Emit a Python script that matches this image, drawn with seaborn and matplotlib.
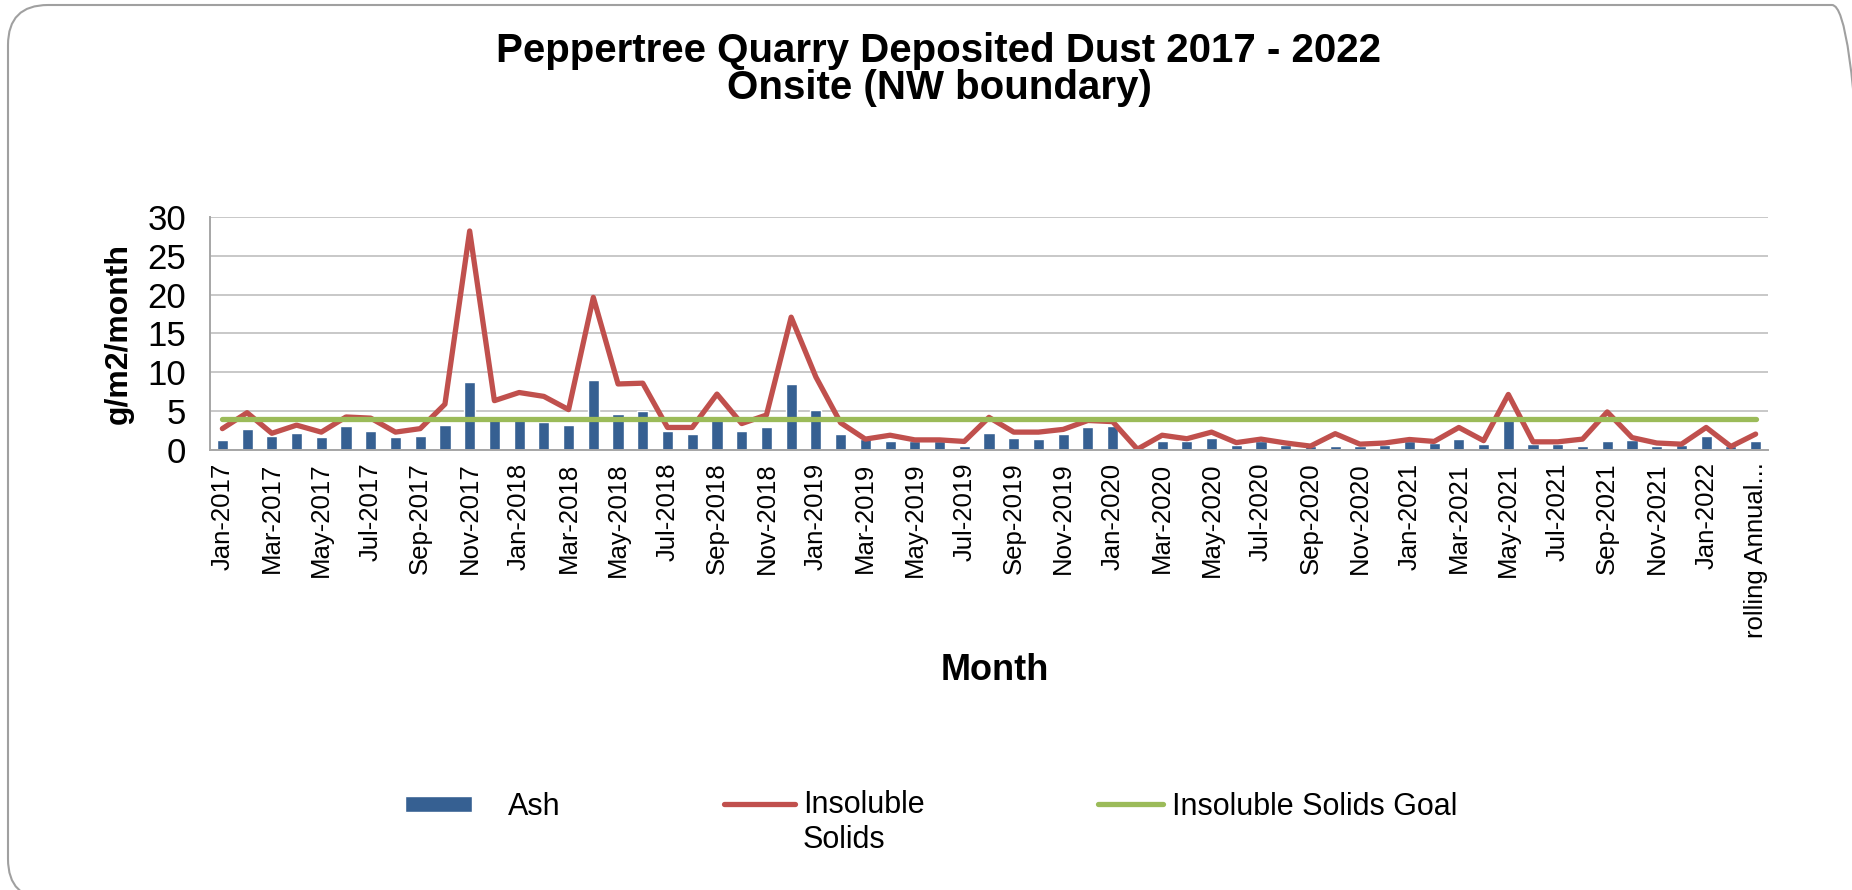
import numpy as np
import pandas as pd
import matplotlib.pyplot as plt
import seaborn as sns
from matplotlib.patches import FancyBboxPatch
from matplotlib.transforms import IdentityTransform
from matplotlib.legend_handler import HandlerLine2D

# monthly categories, plus the rolling annual column at the end
months = list(pd.date_range("2017-01-01", periods=62, freq="MS").strftime("%b-%Y")) + ["rolling Annual..."]

# g/m2/month
ash = [1.3, 2.7, 1.85, 2.2, 1.7, 3.1, 2.4, 1.7, 1.85, 3.2,
       8.7, 3.85, 3.8, 3.6, 3.2, 9.0, 4.6, 5.0, 2.4, 2.0,
       3.9, 2.4, 2.9, 8.5, 5.1, 2.0, 1.4, 1.1, 1.2, 1.2,
       0.55, 2.15, 1.6, 1.45, 2.0, 2.9, 3.05, 0.0, 1.1, 1.1,
       1.6, 0.65, 1.1, 0.65, 0.5, 0.55, 0.5, 0.6, 1.1, 0.95,
       1.45, 0.75, 3.85, 0.75, 0.75, 0.55, 1.1, 1.3, 0.45, 0.65,
       1.8, 0.55, 1.1]
insoluble = [2.75, 4.8, 2.15, 3.2, 2.3, 4.25, 4.1, 2.3, 2.75, 5.9,
             28.2, 6.35, 7.4, 6.9, 5.2, 19.65, 8.5, 8.6, 2.9, 2.9,
             7.2, 3.4, 4.5, 17.1, 9.4, 3.5, 1.4, 1.9, 1.3, 1.3,
             1.1, 4.2, 2.3, 2.3, 2.65, 3.8, 3.65, 0.1, 1.9, 1.45,
             2.3, 0.95, 1.4, 0.9, 0.5, 2.1, 0.75, 0.9, 1.35, 1.1,
             2.9, 1.2, 7.15, 1.05, 1.05, 1.4, 4.9, 1.6, 0.9, 0.75,
             2.9, 0.45, 2.05]
goal = 4.0

yticks = [0, 5, 10, 15, 20, 25, 30]

df = pd.DataFrame({"month": months, "ash": ash, "insoluble": insoluble})
df["goal"] = goal


class RaisedLine(HandlerLine2D):
    """Line handle lifted to sit beside the first line of a two-line label."""
    def create_artists(self, legend, orig_handle, xdescent, ydescent,
                       width, height, fontsize, trans):
        artists = super().create_artists(legend, orig_handle, xdescent, ydescent,
                                         width, height, fontsize, trans)
        for a in artists:
            a.set_ydata(np.asarray(a.get_ydata()) + 14)
        return artists


sns.set_theme(style="white")
plt.rcParams["font.family"] = ["Liberation Sans", "DejaVu Sans"]
plt.rcParams["text.color"] = "black"
plt.rcParams["axes.labelcolor"] = "black"
plt.rcParams["xtick.color"] = "black"
plt.rcParams["ytick.color"] = "black"

fig = plt.figure(figsize=(18.52, 8.90), dpi=100)
ax = fig.add_axes([210 / 1852, 0.4944, 1558 / 1852, 0.2618])

sns.barplot(data=df, x="month", y="ash", color="#366092", saturation=1,
            width=0.45, errorbar=None, ax=ax)
sns.lineplot(data=df, x="month", y="insoluble", color="#C0504D", linewidth=3.8,
             sort=False, errorbar=None, ax=ax)
sns.lineplot(data=df, x="month", y="goal", color="#9BBB59", linewidth=3.8,
             sort=False, errorbar=None, ax=ax)

ax.set_xlim(-0.5, len(months) - 0.5)
ax.set_ylim(0, 30)
ax.set_yticks(yticks)
ax.set_yticklabels([str(t) for t in yticks], fontsize=25)
ax.set_xticks(range(0, len(months), 2))
ax.set_xticklabels(months[::2], rotation=90, fontsize=18.5)
ax.tick_params(axis="x", length=0, pad=9)
ax.tick_params(axis="y", length=0, pad=17)

ax.grid(axis="y", color="#C4C4C4", linewidth=1.3)
ax.set_axisbelow(True)
for side in ["top", "right"]:
    ax.spines[side].set_visible(False)
for side in ["left", "bottom"]:
    ax.spines[side].set_color("#A6A6A6")
    ax.spines[side].set_linewidth(1.4)

ax.set_ylabel("g/m2/month", fontsize=23, fontweight="bold")
ax.yaxis.set_label_coords(-0.049, 0.5)
ax.set_xlabel("Month", fontsize=26, fontweight="bold")
ax.xaxis.set_label_coords(0.504, -0.87)

fig.text(0.507, 1 - 51 / 890, "Peppertree Quarry Deposited Dust 2017 - 2022",
         ha="center", va="center", fontsize=29, fontweight="bold")
fig.text(0.507, 1 - 88 / 890, "Onsite (NW boundary)",
         ha="center", va="center", fontsize=29, fontweight="bold")

# legend: three separate entries placed like the original
bars = ax.containers[0]
red_line, green_line = ax.lines[-2], ax.lines[-1]
leg_y = 1 - 807 / 890
fig.legend([bars], ["Ash"], loc="center left", bbox_to_anchor=(405 / 1852, leg_y),
           frameon=False, fontsize=22, handlelength=2.19, handleheight=0.42,
           handletextpad=1.18, borderpad=0, borderaxespad=0)
fig.legend([red_line], ["Insoluble\nSolids"], loc="upper left",
           bbox_to_anchor=(724 / 1852, 1 - 790 / 890),
           handler_map={red_line: RaisedLine()},
           frameon=False, fontsize=22, handlelength=2.32,
           handletextpad=0.26, borderpad=0, borderaxespad=0)
fig.legend([green_line], ["Insoluble Solids Goal"], loc="center left",
           bbox_to_anchor=(1098 / 1852, leg_y),
           frameon=False, fontsize=22, handlelength=2.12,
           handletextpad=0.29, borderpad=0, borderaxespad=0)

# slide frame around the chart
frame = FancyBboxPatch((8, -9), 1864, 894, boxstyle="round,pad=0,rounding_size=40",
                       transform=IdentityTransform(), facecolor="none",
                       edgecolor="#A0A0A0", linewidth=1.5)
fig.patches.append(frame)

fig.savefig("out.png", dpi=100)
